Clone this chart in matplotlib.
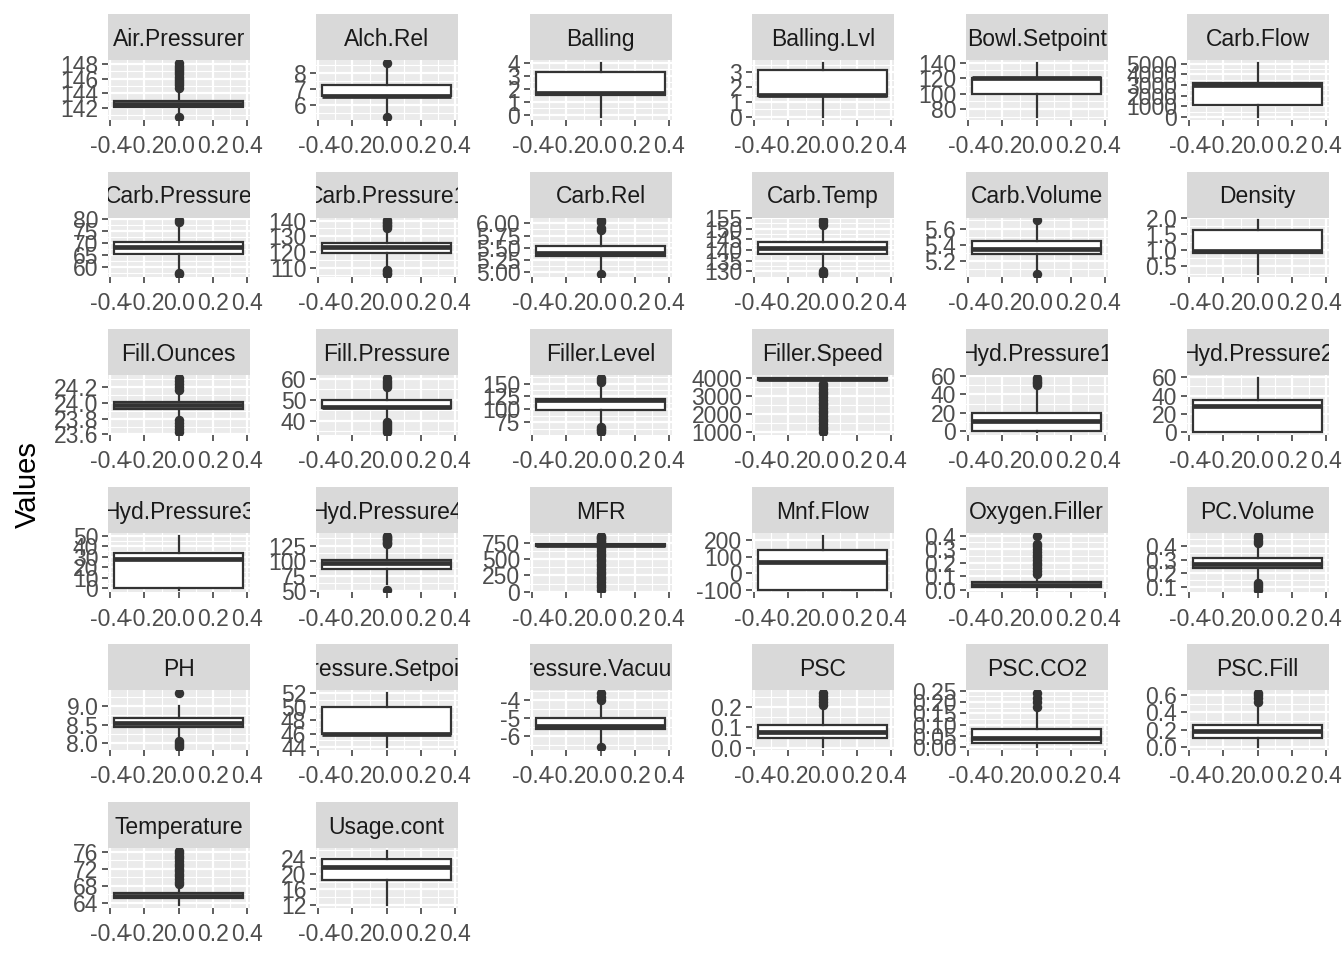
import matplotlib
matplotlib.use("Agg")
import matplotlib.pyplot as plt
from matplotlib.ticker import FixedLocator

plt.rcParams['font.family'] = ['Liberation Sans', 'DejaVu Sans']
plt.rcParams['axes.unicode_minus'] = False

# --- data: one boxplot per variable (ggplot facet_wrap, free scales) ---
names = ["Air.Pressurer", "Alch.Rel", "Balling", "Balling.Lvl", "Bowl.Setpoint", "Carb.Flow",
         "Carb.Pressure", "Carb.Pressure1", "Carb.Rel", "Carb.Temp", "Carb.Volume", "Density",
         "Fill.Ounces", "Fill.Pressure", "Filler.Level", "Filler.Speed", "Hyd.Pressure1", "Hyd.Pressure2",
         "Hyd.Pressure3", "Hyd.Pressure4", "MFR", "Mnf.Flow", "Oxygen.Filler", "PC.Volume",
         "PH", "Pressure.Setpoint", "Pressure.Vacuum", "PSC", "PSC.CO2", "PSC.Fill",
         "Temperature", "Usage.cont"]

q1 = [142.2, 6.54, 1.496, 1.38, 100, 1144,
      65.6, 119.0, 5.34, 138.4, 5.293, 0.90,
      23.92, 46.0, 98.3, 3888, 0.0, 0.0,
      0.0, 86, 706.3, -100.0, 0.022, 0.239,
      8.44, 46, -5.6, 0.048, 0.02, 0.10,
      65.2, 18.36]
med = [142.6, 6.56, 1.648, 1.48, 120, 3028,
       68.2, 123.2, 5.40, 140.8, 5.347, 0.98,
       23.97, 46.4, 118.4, 3982, 11.4, 28.6,
       27.6, 96, 724.0, 65.2, 0.0334, 0.271,
       8.54, 46, -5.4, 0.076, 0.04, 0.18,
       65.6, 21.79]
q3 = [143.0, 7.24, 3.292, 3.14, 120, 3186,
      70.6, 125.4, 5.54, 143.8, 5.453, 1.62,
      24.01, 50.0, 120.0, 3998, 20.2, 34.6,
      33.4, 102, 731.0, 140.8, 0.060, 0.312,
      8.68, 50, -5.0, 0.112, 0.08, 0.26,
      66.4, 23.75]
whisk_lo = [141.2, 5.56, -0.17, 0.0, 70, 26,
            58.4, 109.6, 5.06, 130.6, 5.07, 0.24,
            23.80, 40.4, 66.0, 3724, -0.8, 0.0,
            -1.2, 62, 670.0, -100.2, 0.002, 0.13,
            8.10, 44, -6.4, 0.002, 0.0, 0.0,
            63.6, 12.08]
whisk_hi = [144.2, 8.28, 4.012, 3.66, 140, 5104,
            77.8, 135.0, 5.82, 151.6, 5.68, 1.92,
            24.14, 55.6, 152.0, 4030, 50.4, 59.4,
            50.0, 126, 768.0, 229.4, 0.116, 0.42,
            9.02, 52, -4.2, 0.206, 0.16, 0.50,
            68.2, 25.9]
outliers = [
    [140.8, 144.8, 145.1, 145.4, 145.7, 146.0, 146.3, 146.6, 146.9, 147.2, 147.5, 147.8, 148.2],
    [5.28, 8.62],
    [], [], [], [],
    [57.0, 57.4, 78.6, 79.4],
    [105.6, 106.6, 107.6, 108.6, 135.4, 136.4, 137.4, 138.4, 139.4, 140.2],
    [4.96, 5.86, 5.90, 6.02, 6.06],
    [128.6, 129.4, 130.0, 152.0, 153.0, 154.0],
    [5.04, 5.70],
    [],
    [23.63, 23.67, 23.71, 23.75, 23.78, 24.16, 24.20, 24.24, 24.28, 24.32],
    [34.6, 35.6, 36.6, 37.6, 38.6, 39.6, 56.0, 57.0, 58.0, 59.0, 60.4],
    [55.8, 59.0, 62.0, 65.0, 153.0, 157.0, 161.2],
    [998, 1150, 1300, 1450, 1600, 1750, 1900, 2050, 2200, 2350, 2500, 2650, 2800, 2950,
     3100, 3250, 3400, 3550, 3700],
    [50.6, 52.0, 54.0, 56.0, 58.0],
    [],
    [],
    [52, 128, 130, 132, 134, 136, 138, 140, 142],
    [31.4, 70, 110, 150, 190, 230, 270, 310, 350, 390, 430, 470, 510, 550, 590, 630, 668,
     770, 790, 810, 830, 850, 868.6],
    [],
    [0.12, 0.14, 0.16, 0.18, 0.20, 0.22, 0.24, 0.26, 0.28, 0.30, 0.32, 0.34, 0.40],
    [0.079, 0.095, 0.110, 0.126, 0.424, 0.440, 0.456, 0.478],
    [7.88, 7.94, 8.00, 8.06, 9.36],
    [],
    [-6.6, -4.0, -3.8, -3.6],
    [0.21, 0.225, 0.24, 0.255, 0.27],
    [0.18, 0.20, 0.22, 0.24],
    [0.52, 0.56, 0.60, 0.62],
    [68.4, 69.0, 69.6, 70.2, 70.8, 71.4, 72.0, 72.6, 73.2, 73.8, 74.4, 75.0, 75.6, 76.2],
    [],
]
y_ticks = [
    ["142", "144", "146", "148"], ["6", "7", "8"], ["0", "1", "2", "3", "4"],
    ["0", "1", "2", "3"], ["80", "100", "120", "140"], ["0", "1000", "2000", "3000", "4000", "5000"],
    ["60", "65", "70", "75", "80"], ["110", "120", "130", "140"], ["5.00", "5.25", "5.50", "5.75", "6.00"],
    ["130", "135", "140", "145", "150", "155"], ["5.2", "5.4", "5.6"], ["0.5", "1.0", "1.5", "2.0"],
    ["23.6", "23.8", "24.0", "24.2"], ["40", "50", "60"], ["75", "100", "125", "150"],
    ["1000", "2000", "3000", "4000"], ["0", "20", "40", "60"], ["0", "20", "40", "60"],
    ["0", "10", "20", "30", "40", "50"], ["50", "75", "100", "125"], ["0", "250", "500", "750"],
    ["-100", "0", "100", "200"], ["0.0", "0.1", "0.2", "0.3", "0.4"], ["0.1", "0.2", "0.3", "0.4"],
    ["8.0", "8.5", "9.0"], ["44", "46", "48", "50", "52"], ["-6", "-5", "-4"],
    ["0.0", "0.1", "0.2"], ["0.00", "0.05", "0.10", "0.15", "0.20", "0.25"], ["0.0", "0.2", "0.4", "0.6"],
    ["64", "68", "72", "76"], ["12", "16", "20", "24"],
]
x_ticks = ["-0.4", "-0.2", "0.0", "0.2", "0.4"]

# --- layout (pixels of a 1344x960 canvas) ---
W, H = 1344, 960
col_left = [108, 316, 530, 752, 966, 1187]
panel_w = 141.5
row_top0, row_step = 14, 157.6
strip_h, panel_h = 46, 59.5

dark = "#333333"
fs = 16.5
fig = plt.figure(figsize=(W / 100, H / 100), dpi=100)

for i, name in enumerate(names):
    r, c = divmod(i, 6)
    top = row_top0 + r * row_step
    left = col_left[c]

    # strip
    sax = fig.add_axes([left / W, 1 - (top + strip_h) / H, panel_w / W, strip_h / H])
    sax.set_facecolor("#D9D9D9")
    sax.set_xticks([]); sax.set_yticks([])
    for s in sax.spines.values():
        s.set_visible(False)
    sax.text(0.5, 0.45, name, ha="center", va="center", fontsize=fs,
             color="#1A1A1A", transform=sax.transAxes, clip_on=True)

    # panel
    ax = fig.add_axes([left / W, 1 - (top + strip_h + panel_h) / H, panel_w / W, panel_h / H])
    ax.set_facecolor("#EBEBEB")
    for s in ax.spines.values():
        s.set_visible(False)

    stats = [dict(med=med[i], q1=q1[i], q3=q3[i], whislo=whisk_lo[i], whishi=whisk_hi[i],
                  fliers=outliers[i])]
    ax.bxp(stats, positions=[0], widths=0.75, patch_artist=True, showcaps=False,
           boxprops=dict(facecolor="white", edgecolor=dark, linewidth=1.6),
           medianprops=dict(color=dark, linewidth=3.4, solid_capstyle="butt"),
           whiskerprops=dict(color=dark, linewidth=1.6),
           flierprops=dict(marker="o", markerfacecolor=dark, markeredgecolor=dark, markersize=5.8),
           zorder=3)

    vals = [whisk_lo[i], whisk_hi[i], q1[i], q3[i]] + outliers[i]
    lo, hi = min(vals), max(vals)
    pad = (hi - lo) * 0.05
    ax.set_ylim(lo - pad, hi + pad)
    ax.set_xlim(-0.4125, 0.4125)

    yt = [float(t) for t in y_ticks[i]]
    ax.yaxis.set_major_locator(FixedLocator(yt))
    ax.set_yticklabels(y_ticks[i])
    step = yt[1] - yt[0]
    ax.yaxis.set_minor_locator(FixedLocator([yt[0] - step / 2] + [t + step / 2 for t in yt]))
    xt = [float(t) for t in x_ticks]
    ax.xaxis.set_major_locator(FixedLocator(xt))
    ax.set_xticklabels(x_ticks)
    ax.xaxis.set_minor_locator(FixedLocator([-0.3, -0.1, 0.1, 0.3]))

    ax.grid(True, which="major", color="white", linewidth=1.6, zorder=0)
    ax.grid(True, which="minor", color="white", linewidth=0.8, zorder=0)
    ax.set_axisbelow(True)
    ax.tick_params(which="major", length=4.5, width=1.1, color=dark,
                   labelsize=fs, labelcolor="#4D4D4D", pad=2.5)
    ax.tick_params(axis="x", which="major", pad=6.5)
    ax.tick_params(which="minor", length=0)

fig.text(28 / W, 1 - 485 / H, "Values", rotation=90, ha="center", va="center",
         fontsize=21, color="black")

fig.savefig("out.png", dpi=100)
